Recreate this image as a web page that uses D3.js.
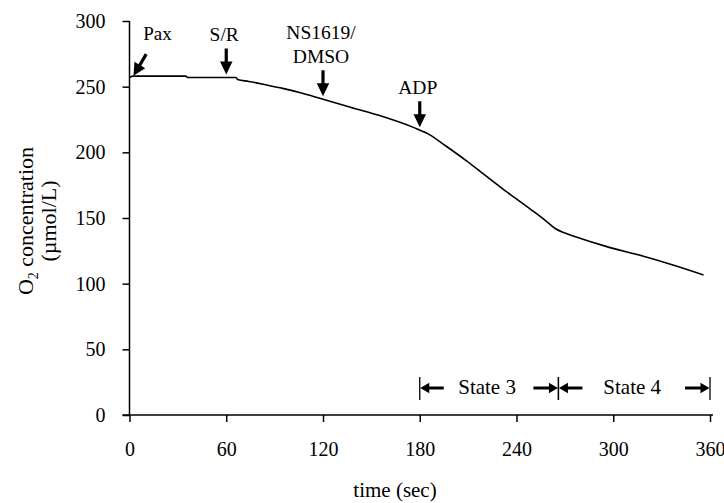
<!DOCTYPE html>
<html>
<head>
<meta charset="utf-8">
<script src="https://cdn.jsdelivr.net/npm/d3@7"></script>
<style>
  html, body { margin: 0; padding: 0; background: #fff; }
  svg { display: block; font-family: "Liberation Serif", "Times New Roman", serif; }
</style>
</head>
<body>
<div id="chart"></div>
<script>
const width = 724;
const height = 503;

// O2 trace
const timeSec = [0, 2, 35, 36, 66, 67, 74, 85, 95, 106, 119, 137, 157, 176, 186, 196, 209, 220, 230, 240, 250, 258, 264, 270, 277, 296, 316, 337, 356];
const o2 = [256.8, 258, 258, 257, 257, 255.5, 254, 251.3, 248.7, 245.4, 240.8, 234.3, 227.2, 219, 213.5, 205, 193.5, 183, 173.5, 164.5, 155.5, 148, 142, 138.5, 135.5, 128.2, 121.8, 114.2, 106.6];

const xTicks = [0, 60, 120, 180, 240, 300, 360];
const yTicks = [0, 50, 100, 150, 200, 250, 300];

// additions
const eventLabels = [["Pax"], ["S/R"], ["NS1619/", "DMSO"], ["ADP"]];
const eventTimes = [0, 60, 120, 180];

// respiration states
const stateLabels = ["State 3", "State 4"];
const stateStart = [180, 266];
const stateEnd = [266, 360];

const x = d3.scaleLinear().domain([0, 360]).range([129.5, 710]);
const y = d3.scaleLinear().domain([0, 300]).range([415, 21]);

const svg = d3.select("#chart")
  .append("svg")
  .attr("width", width)
  .attr("height", height);

// axes
const xAxis = svg.append("g")
  .attr("transform", `translate(0,${y(0)})`)
  .call(d3.axisBottom(x).tickValues(xTicks).tickSize(7).tickSizeOuter(0).tickPadding(20));
xAxis.select(".domain").remove();

const yAxis = svg.append("g")
  .attr("transform", `translate(${x(0)},0)`)
  .call(d3.axisLeft(y).tickValues(yTicks).tickSize(7).tickSizeOuter(0).tickPadding(17));
yAxis.select(".domain").remove();

[xAxis, yAxis].forEach(g => {
  g.selectAll("line").attr("stroke", "#000").attr("stroke-width", 1.5);
  g.selectAll("text")
    .attr("fill", "#000")
    .style("font-family", "'Liberation Serif', serif")
    .style("font-size", "20px");
});

svg.append("line")
  .attr("x1", x(0) - 7).attr("x2", x(360) + 3)
  .attr("y1", y(0)).attr("y2", y(0))
  .attr("stroke", "#000").attr("stroke-width", 1.5);
svg.append("line")
  .attr("x1", x(0)).attr("x2", x(0))
  .attr("y1", y(0)).attr("y2", y(300))
  .attr("stroke", "#000").attr("stroke-width", 1.5);

// axis titles
svg.append("text")
  .attr("x", 395)
  .attr("y", 497)
  .attr("text-anchor", "middle")
  .style("font-size", "21px")
  .text("time (sec)");

const yTitle = svg.append("text")
  .attr("transform", "translate(33,221) rotate(-90)")
  .attr("text-anchor", "middle")
  .style("font-size", "22px");
yTitle.append("tspan").text("O");
yTitle.append("tspan").attr("dy", 5).style("font-size", "14px").text("2");
yTitle.append("tspan").attr("dy", -5).text(" concentration");

svg.append("text")
  .attr("transform", "translate(56,221) rotate(-90)")
  .attr("text-anchor", "middle")
  .style("font-size", "22px")
  .text("(\u00b5mol/L)");

// trace
const data = timeSec.map((t, i) => ({ t, v: o2[i] }));
const line = d3.line()
  .x(d => x(d.t))
  .y(d => y(d.v))
  .curve(d3.curveMonotoneX);

svg.append("path")
  .datum(data)
  .attr("d", line)
  .attr("fill", "none")
  .attr("stroke", "#000")
  .attr("stroke-width", 1.6);

function valueAt(t) {
  const i = d3.bisectLeft(timeSec, t);
  if (i <= 0) return o2[0];
  if (i >= timeSec.length) return o2[o2.length - 1];
  const k = (t - timeSec[i - 1]) / (timeSec[i] - timeSec[i - 1]);
  return o2[i - 1] + k * (o2[i] - o2[i - 1]);
}

// filled arrow from (x1,y1) to tip (x2,y2)
function arrow(x1, y1, x2, y2, headLen, headW, shaftW) {
  const dx = x2 - x1, dy = y2 - y1;
  const len = Math.hypot(dx, dy);
  const ux = dx / len, uy = dy / len;
  const px = -uy, py = ux;
  const bx = x2 - ux * headLen, by = y2 - uy * headLen;
  const pts = [
    [x1 + px * shaftW / 2, y1 + py * shaftW / 2],
    [bx + px * shaftW / 2, by + py * shaftW / 2],
    [bx + px * headW / 2, by + py * headW / 2],
    [x2, y2],
    [bx - px * headW / 2, by - py * headW / 2],
    [bx - px * shaftW / 2, by - py * shaftW / 2],
    [x1 - px * shaftW / 2, y1 - py * shaftW / 2]
  ];
  svg.append("path")
    .attr("d", "M" + pts.map(p => p.join(",")).join("L") + "Z")
    .attr("fill", "#000");
}

eventTimes.forEach((t, i) => {
  const lines = eventLabels[i];
  if (i === 0) {
    // Pax arrow points down-left onto the start of the trace
    const tipX = x(t) + 4, tipY = y(valueAt(t)) - 2;
    const tailX = tipX + 12.7, tailY = tipY - 21.6;
    arrow(tailX, tailY, tipX, tipY, 12.5, 12.5, 3.2);
    svg.append("text")
      .attr("x", tailX - 3)
      .attr("y", tailY - 14)
      .style("font-size", "19px")
      .text(lines[0]);
    return;
  }
  const ax = x(t);
  const tipY = y(valueAt(t)) - 3;
  const topY = tipY - 26;
  arrow(ax, topY, ax, tipY, 13, 12.5, 3.2);
  const txt = svg.append("text")
    .attr("text-anchor", "middle")
    .style("font-size", "19.5px");
  lines.forEach((s, j) => {
    txt.append("tspan")
      .attr("x", ax - 2)
      .attr("y", topY - 7 - (lines.length - 1 - j) * 24)
      .text(s);
  });
});

// state brackets
const stateY = 388;
stateLabels.forEach((s, i) => {
  const x0 = x(stateStart[i]), x1 = x(stateEnd[i]);
  [x0, x1].forEach(xx => {
    svg.append("line")
      .attr("x1", xx).attr("x2", xx)
      .attr("y1", stateY - 11).attr("y2", stateY + 12)
      .attr("stroke", "#000").attr("stroke-width", 1.3);
  });
  arrow(x0 + 24, stateY, x0 + 0.5, stateY, 9, 10.5, 2.8);
  arrow(x1 - 25, stateY, x1 - 0.5, stateY, 9, 10.5, 2.8);
  svg.append("text")
    .attr("x", (x0 + x1) / 2 - 2)
    .attr("y", stateY + 6)
    .attr("text-anchor", "middle")
    .style("font-size", "21px")
    .text(s);
});
</script>
</body>
</html>
